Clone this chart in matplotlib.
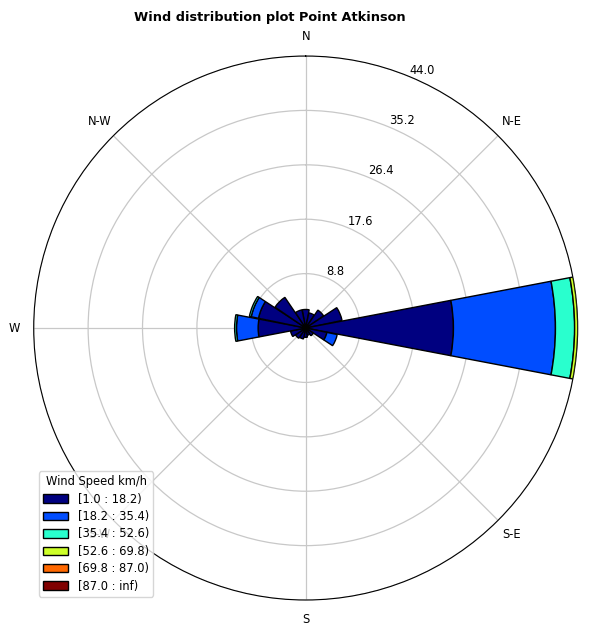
import numpy as np
import matplotlib
matplotlib.use("Agg")
import matplotlib.pyplot as plt
from matplotlib.patches import Patch

# 16 sectors, clockwise from north
directions = ["N", "NNE", "NE", "ENE", "E", "ESE", "SE", "SSE",
              "S", "SSW", "SW", "WSW", "W", "WNW", "NW", "NNW"]

# frequency (%) per speed bin and direction
bin_1_18 = [3.0, 2.5, 3.5, 6.0, 23.9, 3.5, 1.5, 1.2, 1.5, 1.8, 2.0, 2.5, 7.7, 7.8, 6.0, 3.0]
bin_18_35 = [0, 0, 0, 0, 16.5, 1.7, 0, 0, 0, 0, 0, 0, 3.5, 1.2, 0, 0]
bin_35_52 = [0, 0, 0, 0, 3.1, 0, 0, 0, 0, 0, 0, 0, 0.3, 0.3, 0, 0]
bin_52_69 = [0, 0, 0, 0, 0.5, 0, 0, 0, 0, 0, 0, 0, 0, 0, 0, 0]
bin_69_87 = [0] * 16
bin_87_inf = [0] * 16

bin_labels = ["[1.0 : 18.2)", "[18.2 : 35.4)", "[35.4 : 52.6)",
              "[52.6 : 69.8)", "[69.8 : 87.0)", "[87.0 : inf)"]
r_ticks = [8.8, 17.6, 26.4, 35.2, 44.0]
compass = ["N", "N-E", "E", "S-E", "S", "S-W", "W", "N-W"]

bins = [bin_1_18, bin_18_35, bin_35_52, bin_52_69, bin_69_87, bin_87_inf]
colors = [plt.cm.jet(v) for v in np.linspace(0, 1, len(bins))]

fig = plt.figure(figsize=(5.92, 6.26), dpi=100)
ax = fig.add_axes([0.0569, 0.0415, 0.919, 0.869], projection="polar")
ax.set_theta_zero_location("N")
ax.set_theta_direction(-1)

theta = np.deg2rad(np.arange(16) * 22.5)
width = np.deg2rad(22.5) * 0.96
offset = np.zeros(16)
for vals, c in zip(bins, colors):
    vals = np.array(vals, dtype=float)
    m = vals > 0
    if m.any():
        ax.bar(theta[m], vals[m], width=width, bottom=offset[m], color=c,
               edgecolor="black", linewidth=1.0, zorder=3)
    offset += vals

ax.set_ylim(0, 44.0)
ax.set_yticks(r_ticks)
ax.set_yticklabels(["%.1f" % t for t in r_ticks], fontsize=8.3)
ax.set_rlabel_position(22.5)
ax.set_xticks(np.deg2rad(np.arange(0, 360, 45)))
ax.set_xticklabels(compass, fontsize=8.3)
ax.grid(True, color="#c8c8c8", linewidth=0.9)
ax.spines["polar"].set_linewidth(0.8)

handles = [Patch(facecolor=c, edgecolor="black") for c in colors]
leg = fig.legend(handles, bin_labels, title="Wind Speed km/h", fontsize=8.3,
                 title_fontsize=8.3, loc="lower left",
                 bbox_to_anchor=(0.066, 0.047), borderaxespad=0,
                 handlelength=2.2, handleheight=0.75, labelspacing=0.38,
                 borderpad=0.35)

fig.suptitle("Wind distribution plot Point Atkinson", fontsize=9.3,
             fontweight="bold", x=0.456, y=0.983, ha="center")

fig.savefig("out.png", dpi=100)
